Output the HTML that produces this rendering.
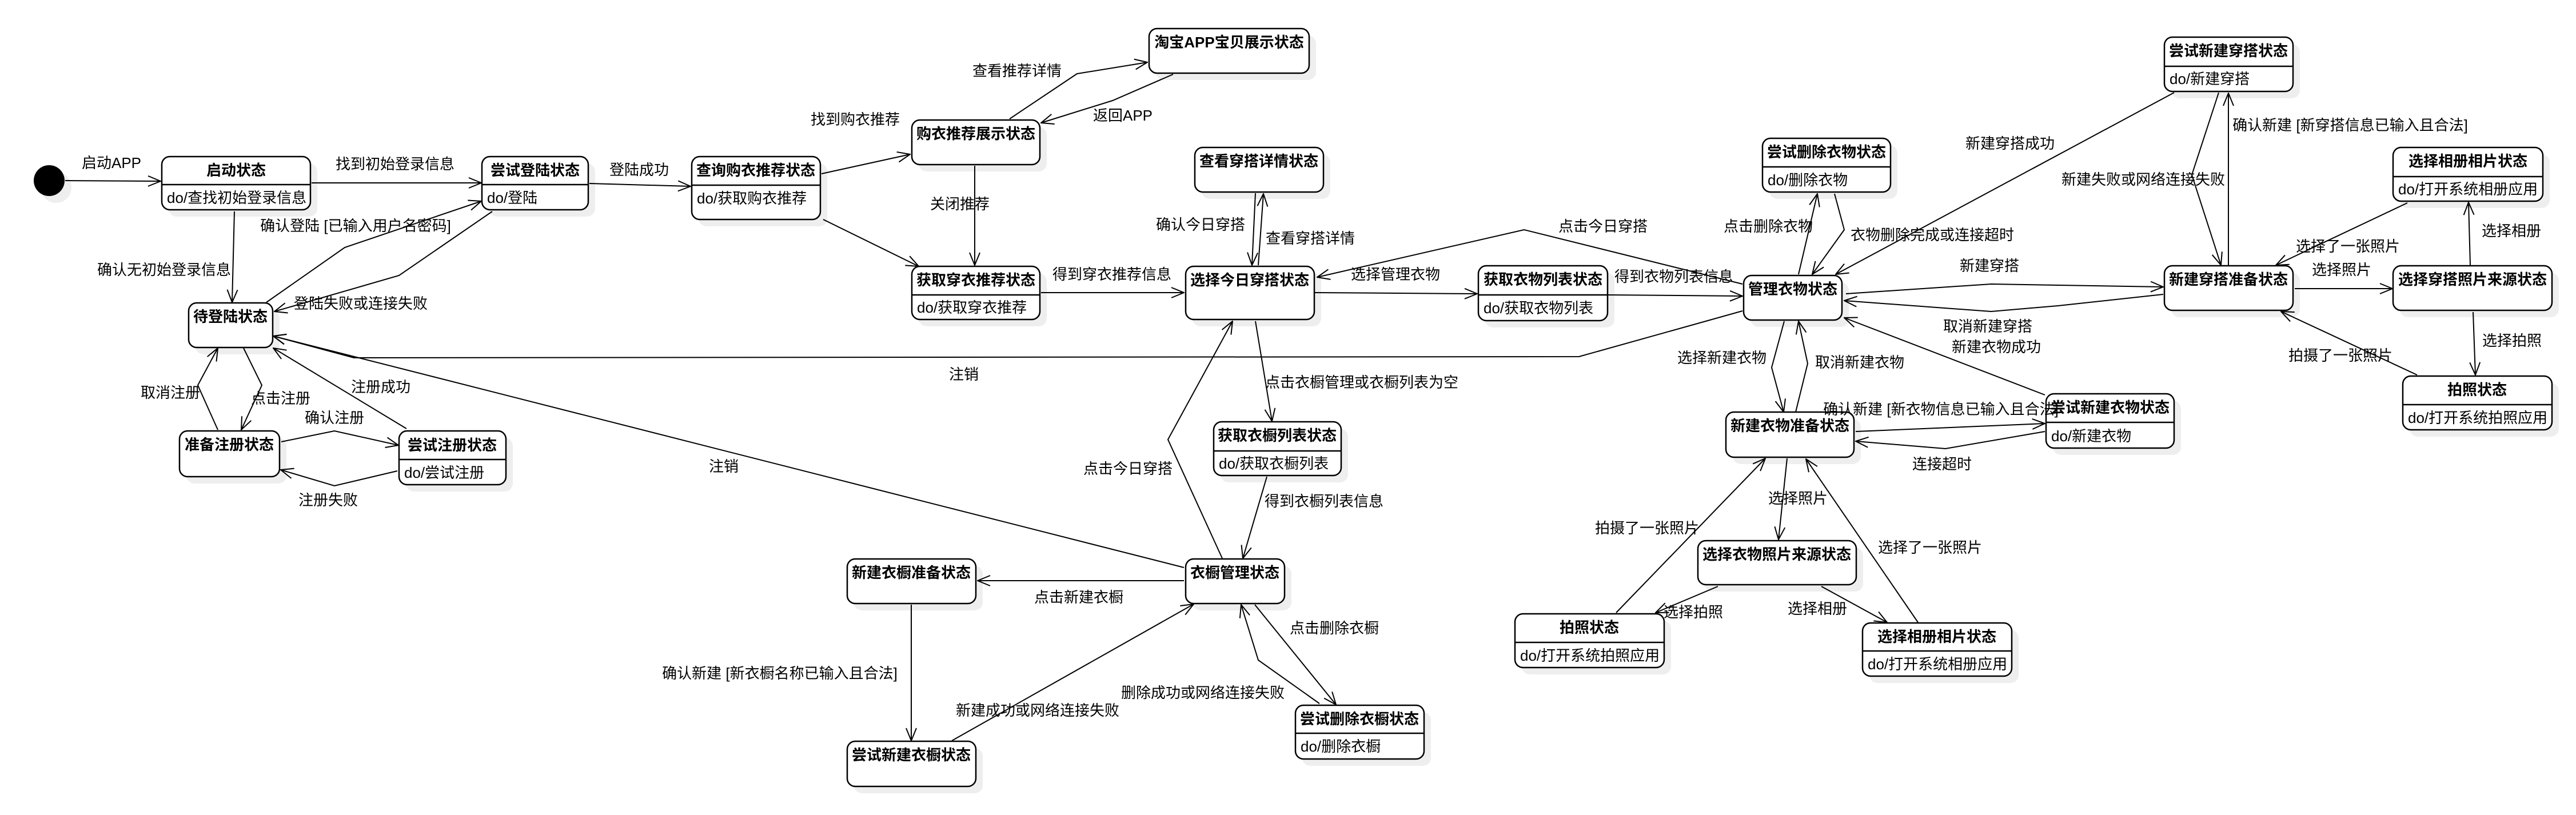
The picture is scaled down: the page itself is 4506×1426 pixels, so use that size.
<!DOCTYPE html>
<html><head><meta charset="utf-8"><style>
html,body{margin:0;padding:0;background:#fff;}
svg{display:block;}
text{font-family:"Liberation Sans","Noto Sans CJK SC",sans-serif;font-size:26px;fill:#000;}
.t{font-weight:bold;font-size:26px;text-anchor:middle;}
.l{text-anchor:middle;}
.b{fill:#fff;stroke:#000;stroke-width:2.5;}
.s{fill:#eeeeee;stroke:none;}
.e{fill:none;stroke:#000;stroke-width:2;marker-end:url(#a);}
.d{stroke:#000;stroke-width:2.5;}
</style></head><body>
<svg width="4506" height="1426" viewBox="0 0 4506 1426" xmlns="http://www.w3.org/2000/svg">
<defs>
<marker id="a" viewBox="0 0 24 20" refX="23" refY="10" markerWidth="24" markerHeight="20" markerUnits="userSpaceOnUse" orient="auto">
<path d="M1,1 L23,10 L1,19" fill="none" stroke="#000" stroke-width="2"/>
</marker>
</defs>

<g>
<rect class="s" x="295" y="286" width="260" height="93" rx="14"/>
<rect class="s" x="855" y="286" width="186" height="93" rx="14"/>
<rect class="s" x="342" y="542" width="147" height="78" rx="14"/>
<rect class="s" x="326" y="766" width="175" height="80" rx="14"/>
<rect class="s" x="710" y="766" width="187" height="94" rx="14"/>
<rect class="s" x="1222" y="286" width="225" height="110" rx="14"/>
<rect class="s" x="1607" y="222" width="224" height="78" rx="14"/>
<rect class="s" x="2022" y="62" width="280" height="78" rx="14"/>
<rect class="s" x="2102" y="270" width="225" height="78" rx="14"/>
<rect class="s" x="1607" y="478" width="224" height="93" rx="14"/>
<rect class="s" x="2086" y="478" width="225" height="93" rx="14"/>
<rect class="s" x="2598" y="477" width="226" height="96" rx="14"/>
<rect class="s" x="3095" y="254" width="224" height="94" rx="14"/>
<rect class="s" x="3062" y="494" width="172" height="78" rx="14"/>
<rect class="s" x="3798" y="77" width="225" height="95" rx="14"/>
<rect class="s" x="4198" y="270" width="262" height="94" rx="14"/>
<rect class="s" x="3798" y="477" width="225" height="78" rx="14"/>
<rect class="s" x="4198" y="477" width="278" height="78" rx="14"/>
<rect class="s" x="4215" y="670" width="261" height="94" rx="14"/>
<rect class="s" x="3591" y="701" width="224" height="95" rx="14"/>
<rect class="s" x="3031" y="733" width="224" height="79" rx="14"/>
<rect class="s" x="2982" y="958" width="277" height="77" rx="14"/>
<rect class="s" x="2662" y="1086" width="261" height="94" rx="14"/>
<rect class="s" x="3270" y="1102" width="261" height="93" rx="14"/>
<rect class="s" x="2135" y="750" width="223" height="94" rx="14"/>
<rect class="s" x="2086" y="990" width="173" height="78" rx="14"/>
<rect class="s" x="1494" y="990" width="225" height="78" rx="14"/>
<rect class="s" x="1494" y="1309" width="225" height="79" rx="14"/>
<rect class="s" x="2278" y="1246" width="225" height="94" rx="14"/>
<ellipse class="s" cx="98" cy="328" rx="27" ry="27"/>
</g>

<g>
<polyline class="e" points="114,316 281,317"/>
<polyline class="e" points="545,320 842,320"/>
<polyline class="e" points="410,370 406,529"/>
<polyline class="e" points="466,529 603,433 842,352"/>
<polyline class="e" points="861,370 698,482 480,545"/>
<polyline class="e" points="426,609 458,674 422,752"/>
<polyline class="e" points="381,752 346,674 381,609"/>
<polyline class="e" points="492,773 585,754 697,779"/>
<polyline class="e" points="695,824 585,850 491,822"/>
<polyline class="e" points="711,750 478,609"/>
<polyline class="e" points="3048,544 2762,624 619,626 478,588"/>
<polyline class="e" points="2071,993 478,588"/>
<polyline class="e" points="1031,321 1208,326"/>
<polyline class="e" points="1437,304 1592,270"/>
<polyline class="e" points="1440,384 1607,466"/>
<polyline class="e" points="1705,290 1705,464"/>
<polyline class="e" points="1766,208 1884,129 2007,109"/>
<polyline class="e" points="2052,130 1946,176 1821,215"/>
<polyline class="e" points="1821,512 2071,512"/>
<polyline class="e" points="2196,338 2190,464"/>
<polyline class="e" points="2201,464 2210,339"/>
<polyline class="e" points="3048,497 2666,402 2304,485"/>
<polyline class="e" points="2300,512 2584,514"/>
<polyline class="e" points="2813,516 3048,518"/>
<polyline class="e" points="3146,480 3179,339"/>
<polyline class="e" points="3209,339 3226,402 3170,480"/>
<polyline class="e" points="3803,162 3211,480"/>
<polyline class="e" points="3881,162 3834,306 3885,464"/>
<polyline class="e" points="3898,464 3898,163"/>
<polyline class="e" points="3229,514 3483,497 3784,502"/>
<polyline class="e" points="3784,515 3600,535 3483,545 3226,526"/>
<polyline class="e" points="3577,691 3226,556"/>
<polyline class="e" points="3121,562 3099,643 3120,721"/>
<polyline class="e" points="3141,721 3162,636 3146,562"/>
<polyline class="e" points="4014,505 4185,505"/>
<polyline class="e" points="4211,355 3981,464"/>
<polyline class="e" points="4321,464 4318,354"/>
<polyline class="e" points="4326,546 4330,656"/>
<polyline class="e" points="4228,656 3990,545"/>
<polyline class="e" points="3246,755 3577,741"/>
<polyline class="e" points="3577,755 3403,785 3246,772"/>
<polyline class="e" points="3126,802 3111,944"/>
<polyline class="e" points="2827,1072 3088,802"/>
<polyline class="e" points="3355,1089 3159,803"/>
<polyline class="e" points="3005,1026 2896,1072"/>
<polyline class="e" points="3186,1026 3301,1089"/>
<polyline class="e" points="2138,977 2043,769 2156,562"/>
<polyline class="e" points="2196,562 2225,737"/>
<polyline class="e" points="2216,834 2174,977"/>
<polyline class="e" points="2071,1016 1710,1016"/>
<polyline class="e" points="1594,1058 1594,1296"/>
<polyline class="e" points="1665,1296 2088,1057"/>
<polyline class="e" points="2195,1058 2337,1233"/>
<polyline class="e" points="2308,1231 2201,1155 2171,1058"/>
</g>

<circle cx="86" cy="316" r="27" fill="#000"/>

<g>
<rect class="b" x="283" y="274" width="260" height="93" rx="14"/><line class="d" x1="283" y1="323" x2="543" y2="323"/>
<text class="t" x="413" y="307">启动状态</text><text x="292" y="355">do/查找初始登录信息</text>

<rect class="b" x="843" y="274" width="186" height="93" rx="14"/><line class="d" x1="843" y1="323" x2="1029" y2="323"/>
<text class="t" x="936" y="307">尝试登陆状态</text><text x="852" y="355">do/登陆</text>

<rect class="b" x="330" y="530" width="147" height="78" rx="14"/>
<text class="t" x="403" y="563">待登陆状态</text>

<rect class="b" x="314" y="754" width="175" height="80" rx="14"/>
<text class="t" x="401" y="787">准备注册状态</text>

<rect class="b" x="698" y="754" width="187" height="94" rx="14"/><line class="d" x1="698" y1="804" x2="885" y2="804"/>
<text class="t" x="791" y="788">尝试注册状态</text><text x="707" y="836">do/尝试注册</text>

<rect class="b" x="1210" y="274" width="225" height="110" rx="14"/><line class="d" x1="1210" y1="324" x2="1435" y2="324"/>
<text class="t" x="1322" y="307">查询购衣推荐状态</text><text x="1219" y="356">do/获取购衣推荐</text>

<rect class="b" x="1595" y="210" width="224" height="78" rx="14"/>
<text class="t" x="1707" y="243">购衣推荐展示状态</text>

<rect class="b" x="2010" y="50" width="280" height="78" rx="14"/>
<text class="t" x="2150" y="83">淘宝APP宝贝展示状态</text>

<rect class="b" x="2090" y="258" width="225" height="78" rx="14"/>
<text class="t" x="2202" y="291">查看穿搭详情状态</text>

<rect class="b" x="1595" y="466" width="224" height="93" rx="14"/><line class="d" x1="1595" y1="516" x2="1819" y2="516"/>
<text class="t" x="1707" y="499">获取穿衣推荐状态</text><text x="1604" y="547">do/获取穿衣推荐</text>

<rect class="b" x="2074" y="466" width="225" height="93" rx="14"/>
<text class="t" x="2186" y="499">选择今日穿搭状态</text>

<rect class="b" x="2586" y="465" width="226" height="96" rx="14"/><line class="d" x1="2586" y1="516" x2="2812" y2="516"/>
<text class="t" x="2699" y="498">获取衣物列表状态</text><text x="2595" y="548">do/获取衣物列表</text>

<rect class="b" x="3083" y="242" width="224" height="94" rx="14"/><line class="d" x1="3083" y1="292" x2="3307" y2="292"/>
<text class="t" x="3195" y="275">尝试删除衣物状态</text><text x="3092" y="324">do/删除衣物</text>

<rect class="b" x="3050" y="482" width="172" height="78" rx="14"/>
<text class="t" x="3136" y="515">管理衣物状态</text>

<rect class="b" x="3786" y="65" width="225" height="95" rx="14"/><line class="d" x1="3786" y1="116" x2="4011" y2="116"/>
<text class="t" x="3898" y="98">尝试新建穿搭状态</text><text x="3795" y="147">do/新建穿搭</text>

<rect class="b" x="4186" y="258" width="262" height="94" rx="14"/><line class="d" x1="4186" y1="309" x2="4448" y2="309"/>
<text class="t" x="4317" y="291">选择相册相片状态</text><text x="4195" y="340">do/打开系统相册应用</text>

<rect class="b" x="3786" y="465" width="225" height="78" rx="14"/>
<text class="t" x="3898" y="498">新建穿搭准备状态</text>

<rect class="b" x="4186" y="465" width="278" height="78" rx="14"/>
<text class="t" x="4325" y="498">选择穿搭照片来源状态</text>

<rect class="b" x="4203" y="658" width="261" height="94" rx="14"/><line class="d" x1="4203" y1="708" x2="4464" y2="708"/>
<text class="t" x="4333" y="691">拍照状态</text><text x="4212" y="740">do/打开系统拍照应用</text>

<rect class="b" x="3579" y="689" width="224" height="95" rx="14"/><line class="d" x1="3579" y1="739" x2="3803" y2="739"/>
<text class="t" x="3691" y="722">尝试新建衣物状态</text><text x="3588" y="772">do/新建衣物</text>

<rect class="b" x="3019" y="721" width="224" height="79" rx="14"/>
<text class="t" x="3131" y="754">新建衣物准备状态</text>

<rect class="b" x="2970" y="946" width="277" height="77" rx="14"/>
<text class="t" x="3108" y="979">选择衣物照片来源状态</text>

<rect class="b" x="2650" y="1074" width="261" height="94" rx="14"/><line class="d" x1="2650" y1="1124" x2="2911" y2="1124"/>
<text class="t" x="2780" y="1107">拍照状态</text><text x="2659" y="1156">do/打开系统拍照应用</text>

<rect class="b" x="3258" y="1090" width="261" height="93" rx="14"/><line class="d" x1="3258" y1="1139" x2="3519" y2="1139"/>
<text class="t" x="3388" y="1123">选择相册相片状态</text><text x="3267" y="1171">do/打开系统相册应用</text>

<rect class="b" x="2123" y="738" width="223" height="94" rx="14"/><line class="d" x1="2123" y1="789" x2="2346" y2="789"/>
<text class="t" x="2234" y="771">获取衣橱列表状态</text><text x="2132" y="820">do/获取衣橱列表</text>

<rect class="b" x="2074" y="978" width="173" height="78" rx="14"/>
<text class="t" x="2160" y="1011">衣橱管理状态</text>

<rect class="b" x="1482" y="978" width="225" height="78" rx="14"/>
<text class="t" x="1594" y="1011">新建衣橱准备状态</text>

<rect class="b" x="1482" y="1297" width="225" height="79" rx="14"/>
<text class="t" x="1594" y="1330">尝试新建衣橱状态</text>

<rect class="b" x="2266" y="1234" width="225" height="94" rx="14"/><line class="d" x1="2266" y1="1283" x2="2491" y2="1283"/>
<text class="t" x="2378" y="1267">尝试删除衣橱状态</text><text x="2275" y="1315">do/删除衣橱</text>
</g>

<g>
<text class="l" x="195" y="294">启动APP</text>
<text class="l" x="691" y="296">找到初始登录信息</text>
<text class="l" x="622" y="404">确认登陆 [已输入用户名密码]</text>
<text class="l" x="287" y="481">确认无初始登录信息</text>
<text class="l" x="631" y="540">登陆失败或连接失败</text>
<text class="l" x="298" y="696">取消注册</text>
<text class="l" x="491" y="706">点击注册</text>
<text class="l" x="666" y="686">注册成功</text>
<text class="l" x="585" y="740">确认注册</text>
<text class="l" x="574" y="884">注册失败</text>
<text class="l" x="1118" y="306">登陆成功</text>
<text class="l" x="1496" y="218">找到购衣推荐</text>
<text class="l" x="1679" y="366">关闭推荐</text>
<text class="l" x="1779" y="133">查看推荐详情</text>
<text class="l" x="1964" y="211">返回APP</text>
<text class="l" x="1945" y="489">得到穿衣推荐信息</text>
<text class="l" x="2100" y="402">确认今日穿搭</text>
<text class="l" x="2292" y="426">查看穿搭详情</text>
<text class="l" x="1686" y="664">注销</text>
<text class="l" x="1266" y="825">注销</text>
<text class="l" x="2804" y="405">点击今日穿搭</text>
<text class="l" x="2441" y="489">选择管理衣物</text>
<text class="l" x="2928" y="493">得到衣物列表信息</text>
<text class="l" x="3093" y="405">点击删除衣物</text>
<text class="l" x="3380" y="420">衣物删除完成或连接超时</text>
<text class="l" x="3516" y="260">新建穿搭成功</text>
<text class="l" x="3749" y="323">新建失败或网络连接失败</text>
<text class="l" x="4111" y="228">确认新建 [新穿搭信息已输入且合法]</text>
<text class="l" x="3480" y="474">新建穿搭</text>
<text class="l" x="3477" y="580">取消新建穿搭</text>
<text class="l" x="3492" y="616">新建衣物成功</text>
<text class="l" x="3012" y="635">选择新建衣物</text>
<text class="l" x="3253" y="643">取消新建衣物</text>
<text class="l" x="4096" y="481">选择照片</text>
<text class="l" x="4107" y="440">选择了一张照片</text>
<text class="l" x="4393" y="413">选择相册</text>
<text class="l" x="4394" y="605">选择拍照</text>
<text class="l" x="4094" y="631">拍摄了一张照片</text>
<text class="l" x="3395" y="725">确认新建 [新衣物信息已输入且合法]</text>
<text class="l" x="3397" y="821">连接超时</text>
<text class="l" x="3145" y="881">选择照片</text>
<text class="l" x="2881" y="933">拍摄了一张照片</text>
<text class="l" x="3376" y="967">选择了一张照片</text>
<text class="l" x="2962" y="1080">选择拍照</text>
<text class="l" x="3179" y="1074">选择相册</text>
<text class="l" x="1973" y="829">点击今日穿搭</text>
<text class="l" x="2382" y="678">点击衣橱管理或衣橱列表为空</text>
<text class="l" x="2316" y="886">得到衣橱列表信息</text>
<text class="l" x="1887" y="1054">点击新建衣橱</text>
<text class="l" x="1364" y="1187">确认新建 [新衣橱名称已输入且合法]</text>
<text class="l" x="1815" y="1252">新建成功或网络连接失败</text>
<text class="l" x="2334" y="1108">点击删除衣橱</text>
<text class="l" x="2104" y="1221">删除成功或网络连接失败</text>
</g>
</svg>
</body></html>
